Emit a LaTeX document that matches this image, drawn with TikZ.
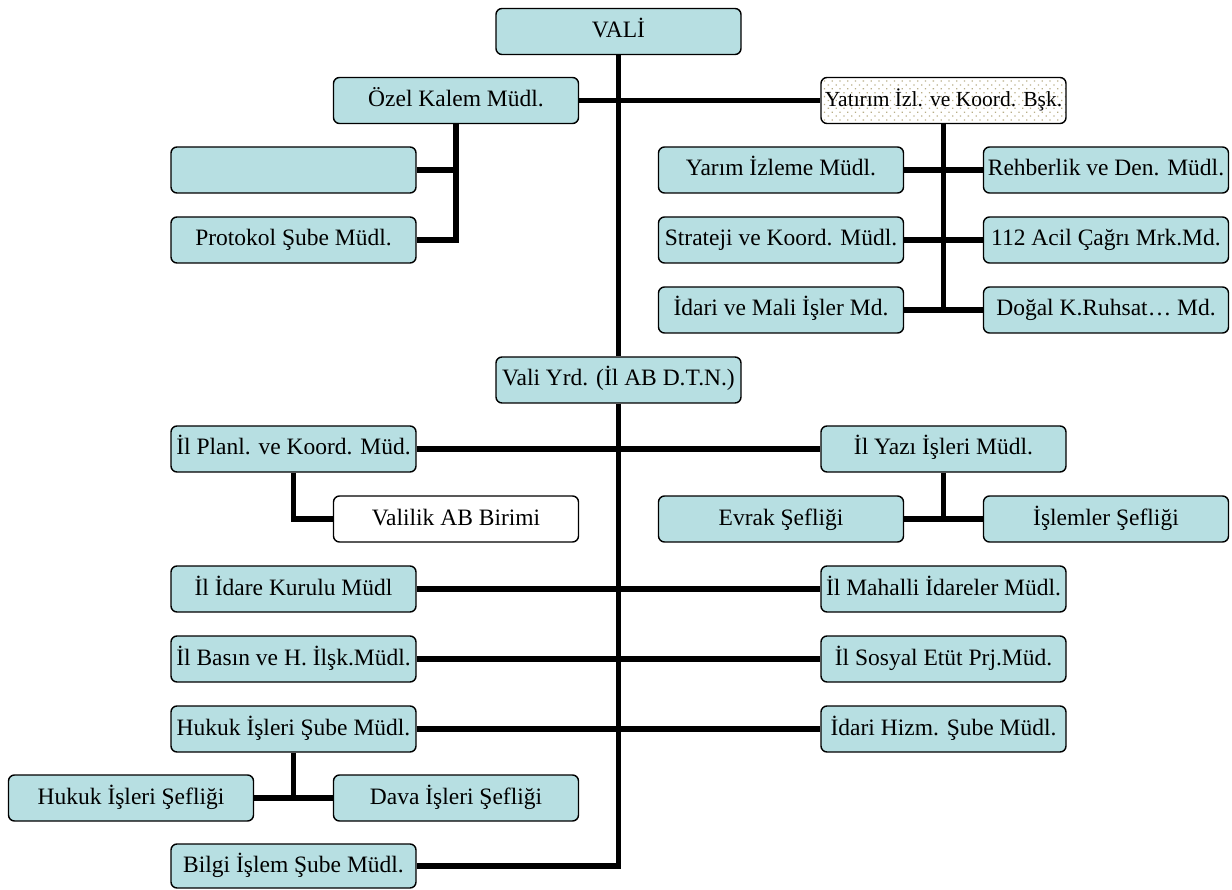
\documentclass[tikz,border=0pt]{standalone}
\usepackage{fontspec}
\setmainfont{Liberation Serif}
\usetikzlibrary{backgrounds,patterns.meta}
\definecolor{kutumavi}{RGB}{183,223,226}
\definecolor{noktarenk}{RGB}{185,174,135}

\begin{document}
\begin{tikzpicture}[x=1pt,y=-1pt,
					kutu/.style={draw,line width=1.4pt,rounded corners=6pt,fill=kutumavi,
						minimum width=245pt,minimum height=46pt,inner sep=1pt,
						text height=17pt,text depth=5pt,
						font=\fontsize{23.5}{27}\selectfont},
					bagla/.style={line width=5.5pt}]
	\useasboundingbox (0,0) rectangle (1232,890);
	\node[kutu] (vali) at (618.5,31.5) {VALİ};
	\node[kutu] (ozel) at (456,100.5) {Özel Kalem Müdl.};
	\node[kutu,fill=none,pattern={Dots[distance=5.5pt,radius=0.9pt,angle=45]},
		pattern color=noktarenk,font=\fontsize{21.5}{25}\selectfont] (yatirim) at (943.5,100.5) {Yatırım İzl. ve Koord. Bşk.};
	\node[kutu] (bos) at (293.5,170) {};
	\node[kutu] (protokol) at (293.5,240) {Protokol Şube Müdl.};
	\node[kutu] (yarim) at (781,170) {Yarım İzleme Müdl.};
	\node[kutu] (rehber) at (1106,170) {Rehberlik ve Den. Müdl.};
	\node[kutu] (strateji) at (781,240) {Strateji ve Koord. Müdl.};
	\node[kutu] (acil) at (1106,240) {112 Acil Çağrı Mrk.Md.};
	\node[kutu] (idari) at (781,310) {İdari ve Mali İşler Md.};
	\node[kutu] (dogal) at (1106,310) {Doğal K.Ruhsat… Md.};
	\node[kutu] (vrd) at (618.5,380) {Vali Yrd. (İl AB D.T.N.)};
	\node[kutu] (planl) at (293.5,449) {İl Planl. ve Koord. Müd.};
	\node[kutu] (yazi) at (943.5,449) {İl Yazı İşleri Müdl.};
	\node[kutu,fill=white] (valilik) at (456,519) {Valilik AB Birimi};
	\node[kutu] (evrak) at (781,519) {Evrak Şefliği};
	\node[kutu] (islemler) at (1106,519) {İşlemler Şefliği};
	\node[kutu] (idare) at (293.5,589) {İl İdare Kurulu Müdl};
	\node[kutu] (mahalli) at (943.5,589) {İl Mahalli İdareler Müdl.};
	\node[kutu] (basin) at (293.5,659) {İl Basın ve H. İlşk.Müdl.};
	\node[kutu] (sosyal) at (943.5,659) {İl Sosyal Etüt Prj.Müd.};
	\node[kutu] (hukuk) at (293.5,729) {Hukuk İşleri Şube Müdl.};
	\node[kutu] (hizm) at (943.5,729) {İdari Hizm. Şube Müdl.};
	\node[kutu] (hsef) at (131,798) {Hukuk İşleri Şefliği};
	\node[kutu] (dava) at (456,798) {Dava İşleri Şefliği};
	\node[kutu,minimum height=44pt] (bilgi) at (293.5,866) {Bilgi İşlem Şube Müdl.};
	\begin{scope}[on background layer]
		\draw[bagla] (vali.south) -- (vrd.north);
		\draw[bagla] (vrd.south) |- (bilgi.east);
		\draw[bagla] (ozel.east) -- (yatirim.west);
		\draw[bagla] (ozel.south) |- (protokol.east);
		\draw[bagla] (bos.east) -- (bos.east -| ozel.south);
		\draw[bagla] (yatirim.south) -- (yatirim.south |- idari.east);
		\draw[bagla] (yarim.east) -- (rehber.west);
		\draw[bagla] (strateji.east) -- (acil.west);
		\draw[bagla] (idari.east) -- (dogal.west);
		\draw[bagla] (planl.east) -- (yazi.west);
		\draw[bagla] (planl.south) |- (valilik.west);
		\draw[bagla] (yazi.south) -- (yazi.south |- evrak.east);
		\draw[bagla] (evrak.east) -- (islemler.west);
		\draw[bagla] (idare.east) -- (mahalli.west);
		\draw[bagla] (basin.east) -- (sosyal.west);
		\draw[bagla] (hukuk.east) -- (hizm.west);
		\draw[bagla] (hukuk.south) -- (hukuk.south |- hsef.east);
		\draw[bagla] (hsef.east) -- (dava.west);
	\end{scope}
\end{tikzpicture}
\end{document}
